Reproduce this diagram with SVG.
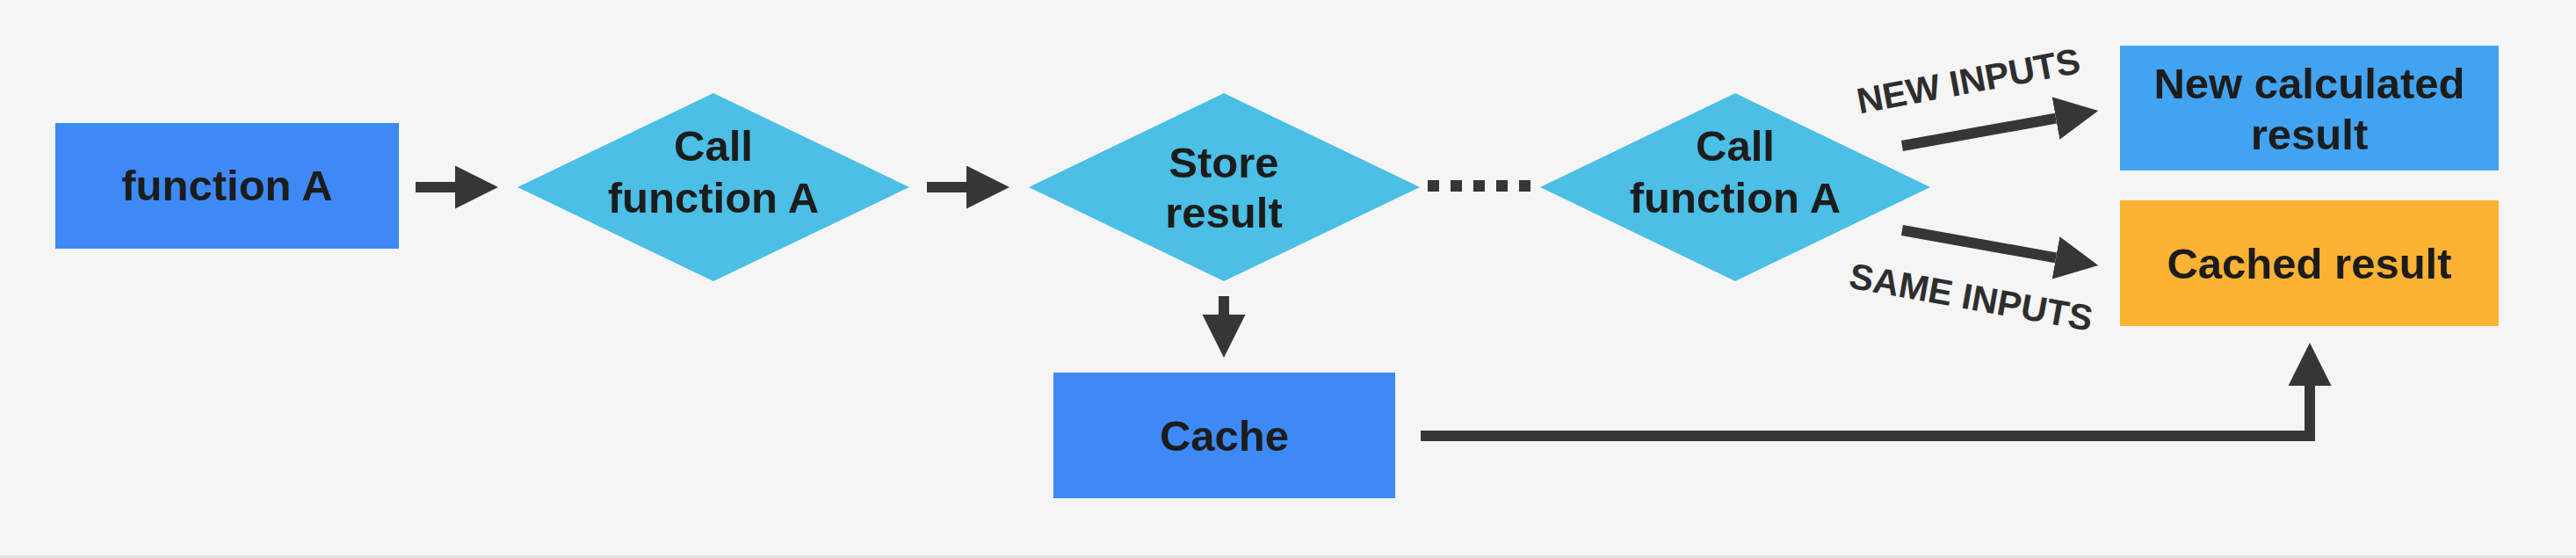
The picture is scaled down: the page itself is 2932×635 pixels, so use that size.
<svg xmlns="http://www.w3.org/2000/svg" width="2932" height="635" viewBox="0 0 2932 635">
<style>
.bg{fill:#f5f5f5}
.t{font-family:"Liberation Sans",Arial,sans-serif;font-weight:bold;font-size:49px;fill:#1c1c1c;text-anchor:middle}
.lbl{font-family:"Liberation Sans",Arial,sans-serif;font-weight:bold;font-size:41px;fill:#2e2e2e;text-anchor:middle}
.blue{fill:#3d8af7}
.lblue{fill:#42a3f0}
.dia{fill:#4bbfe5}
.orange{fill:#fcb233}
.c{stroke:#363636;stroke-width:12;fill:none;stroke-linejoin:miter}
</style>
<defs>
<marker id="ah" markerUnits="userSpaceOnUse" markerWidth="50" markerHeight="50" refX="0" refY="24.5" orient="auto">
<path d="M0,0 L49,24.5 L0,49 Z" fill="#363636"/>
</marker>
</defs>
<rect class="bg" x="0" y="0" width="2932" height="635"/>
<rect x="0" y="632" width="2932" height="3" fill="#e4e4e4"/>

<g id="functionA">
<rect class="blue" x="63" y="140" width="391" height="143"/>
<text class="t" x="258.5" y="228">function A</text>
</g>

<g id="callA1">
<polygon class="dia" points="589,213 812,106 1035,213 812,320"/>
<text class="t" x="812" y="183">Call</text>
<text class="t" x="812" y="242">function A</text>
</g>

<g id="store">
<polygon class="dia" points="1171,213 1393,106 1616,213 1393,320"/>
<text class="t" x="1393" y="202">Store</text>
<text class="t" x="1393" y="259">result</text>
</g>

<g id="callA2">
<polygon class="dia" points="1753,213 1975,106 2197,213 1975,320"/>
<text class="t" x="1975" y="183">Call</text>
<text class="t" x="1975" y="242">function A</text>
</g>

<g id="newResult">
<rect class="lblue" x="2413" y="52" width="431" height="142"/>
<text class="t" x="2628.5" y="112">New calculated</text>
<text class="t" x="2628.5" y="170">result</text>
</g>

<g id="cachedResult">
<rect class="orange" x="2413" y="228" width="431" height="143"/>
<text class="t" x="2628.5" y="317">Cached result</text>
</g>

<g id="cache">
<rect class="blue" x="1199" y="424" width="389" height="143"/>
<text class="t" x="1393.5" y="513">Cache</text>
</g>

<g id="connectors">
<line class="c" x1="473" y1="213" x2="518" y2="213" marker-end="url(#ah)"/>
<line class="c" x1="1055" y1="213" x2="1100" y2="213" marker-end="url(#ah)"/>
<line class="c" x1="1393" y1="337" x2="1393" y2="358" marker-end="url(#ah)"/>
<line class="c" x1="2165" y1="166" x2="2340" y2="134.6" marker-end="url(#ah)"/>
<line class="c" x1="2165" y1="262" x2="2340" y2="293.4" marker-end="url(#ah)"/>
<path class="c" d="M1617,496 H2629 V439" marker-end="url(#ah)"/>
<g fill="#363636">
<rect x="1625" y="205" width="13" height="13"/>
<rect x="1651" y="205" width="13" height="13"/>
<rect x="1677" y="205" width="13" height="13"/>
<rect x="1703" y="205" width="13" height="13"/>
<rect x="1729" y="205" width="13" height="13"/>
</g>
<text class="lbl" transform="translate(2243,106) rotate(-10.5)">NEW INPUTS</text>
<text class="lbl" transform="translate(2241,352) rotate(10.2)">SAME INPUTS</text>
</g>
</svg>
